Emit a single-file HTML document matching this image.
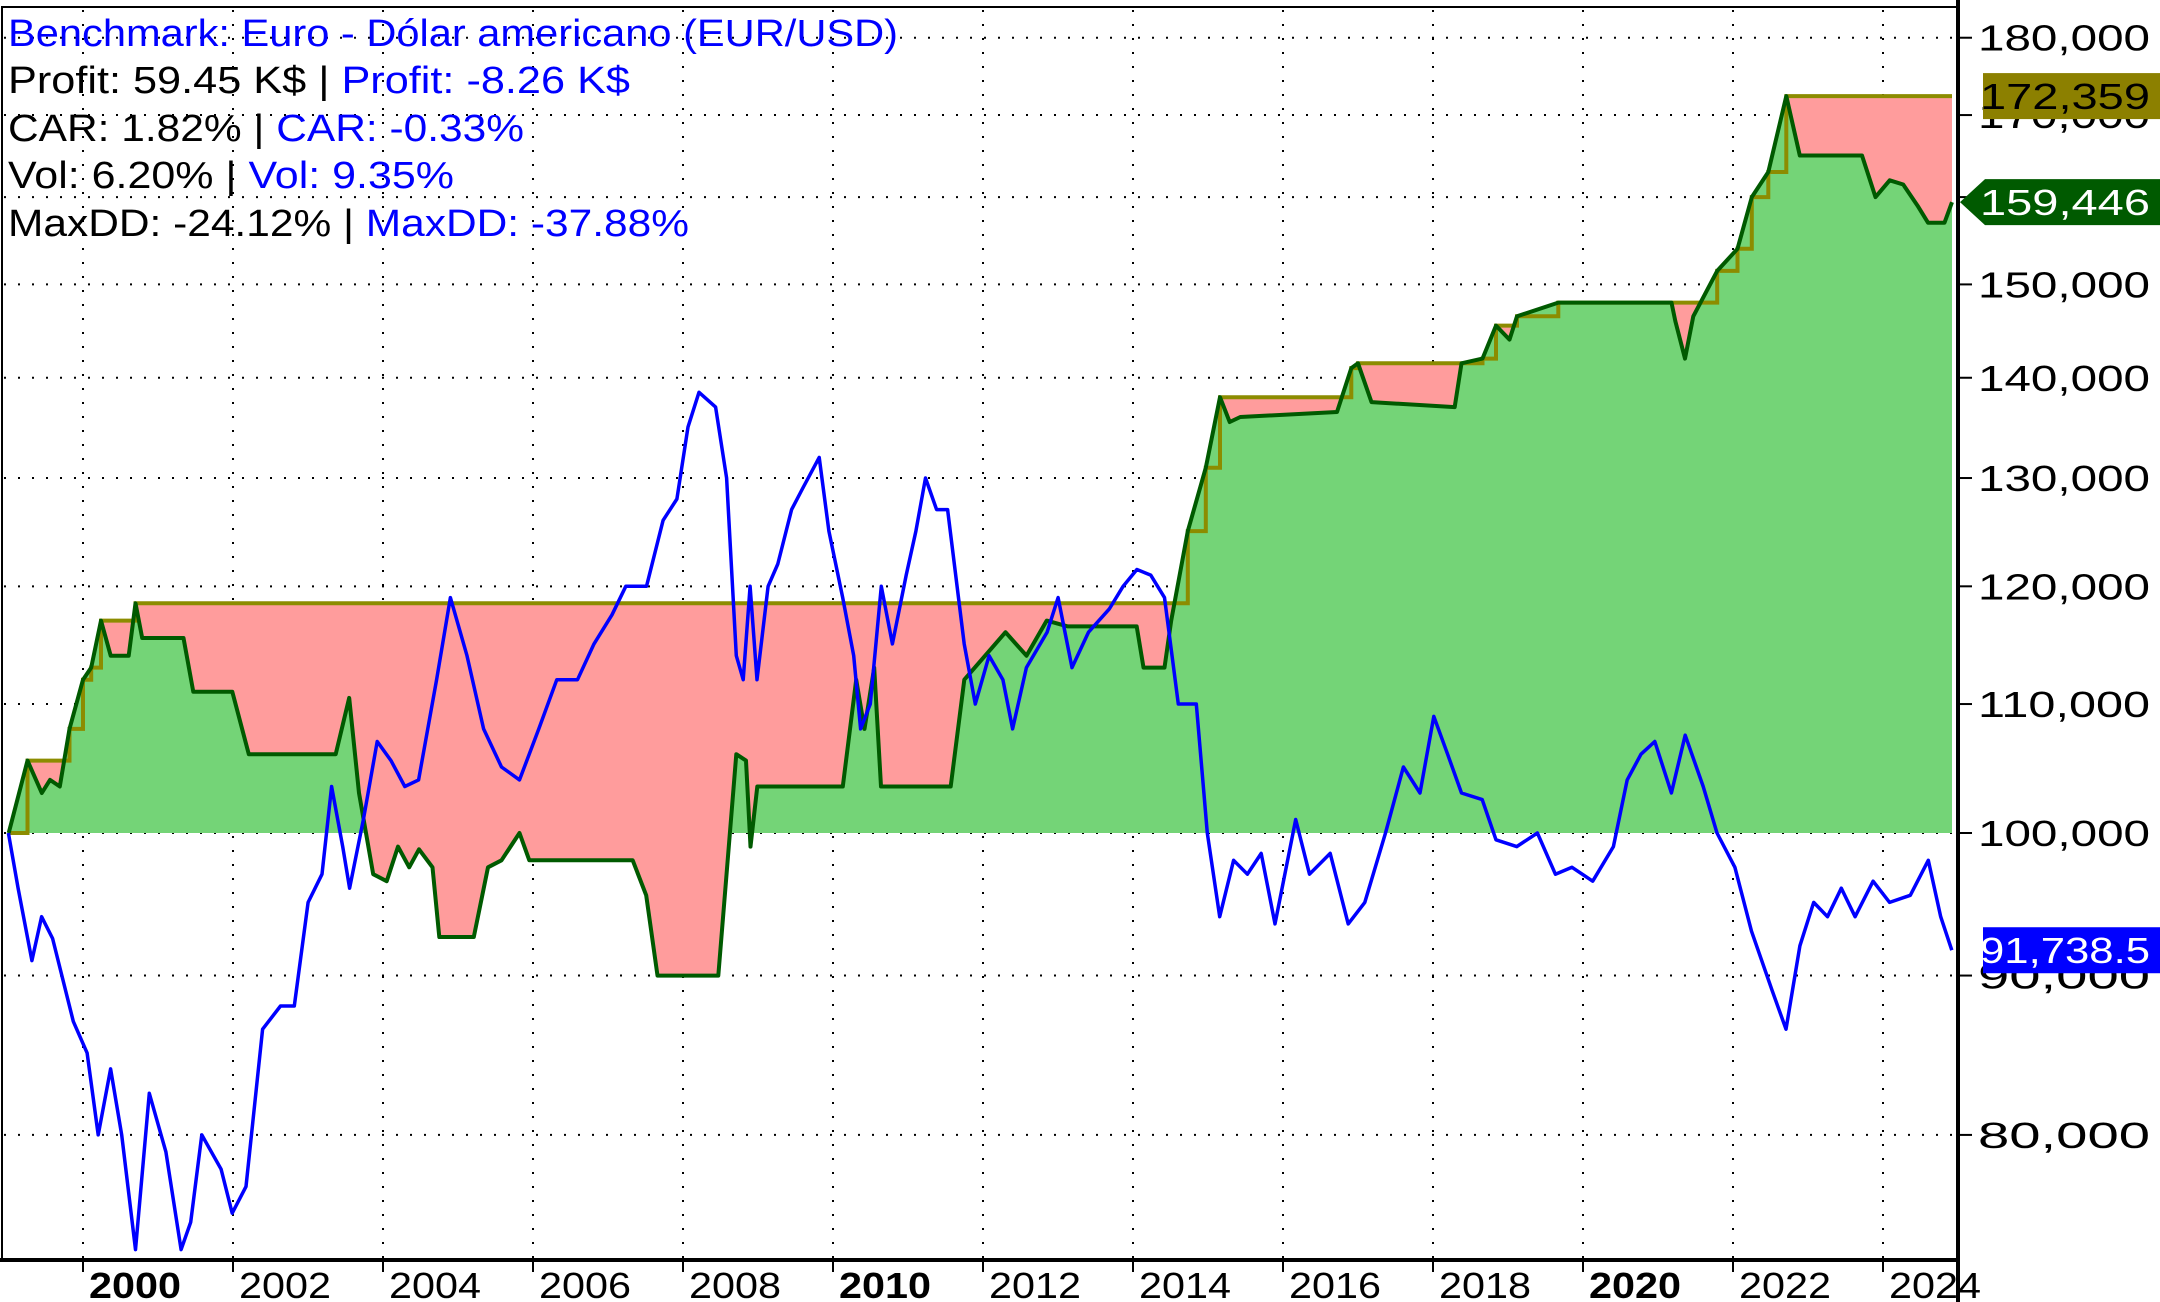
<!DOCTYPE html>
<html><head><meta charset="utf-8"><style>
html,body{margin:0;padding:0;background:#fff}
svg{display:block;font-family:"Liberation Sans",Arial,sans-serif}
</style></head><body>
<svg id="chart" width="2160" height="1302" viewBox="0 0 2160 1302" xmlns="http://www.w3.org/2000/svg">
<defs><clipPath id="above"><rect x="0" y="0" width="1958" height="833"/></clipPath>
<clipPath id="plot"><rect x="0" y="0" width="1958" height="1260"/></clipPath></defs>
<g id="grid"></g>
<g id="areas" clip-path="url(#plot)"></g>
<g id="lines" clip-path="url(#plot)"></g>
<rect x="2" y="7" width="1956" height="1253" fill="none" stroke="#000" stroke-width="2"/>
<line x1="0" y1="1260" x2="1960" y2="1260" stroke="#000" stroke-width="4"/>
<line x1="1958" y1="0" x2="1958" y2="1302" stroke="#000" stroke-width="4"/>
<g id="axes"></g>
<g font-size="38">
<text x="8" y="46" fill="#0000ff" textLength="890" lengthAdjust="spacingAndGlyphs">Benchmark: Euro - Dólar americano (EUR/USD)</text>
<text x="8" y="93" textLength="622" lengthAdjust="spacingAndGlyphs"><tspan fill="#000">Profit: 59.45 K$ | </tspan><tspan fill="#0000ff">Profit: -8.26 K$</tspan></text>
<text x="8" y="141" textLength="516" lengthAdjust="spacingAndGlyphs"><tspan fill="#000">CAR: 1.82% | </tspan><tspan fill="#0000ff">CAR: -0.33%</tspan></text>
<text x="8" y="188" textLength="446" lengthAdjust="spacingAndGlyphs"><tspan fill="#000">Vol: 6.20% | </tspan><tspan fill="#0000ff">Vol: 9.35%</tspan></text>
<text x="8" y="236" textLength="681" lengthAdjust="spacingAndGlyphs"><tspan fill="#000">MaxDD: -24.12% | </tspan><tspan fill="#0000ff">MaxDD: -37.88%</tspan></text>
</g>
<g id="tags"></g>
</svg>
<script>
const eqYears=[1999.01,1999.26,1999.45,1999.56,1999.69,1999.82,2000.0,2000.11,2000.24,2000.37,2000.61,2000.7,2000.79,2001.34,2001.47,2001.99,2002.21,2003.37,2003.55,2003.68,2003.87,2004.05,2004.2,2004.35,2004.48,2004.66,2004.75,2005.21,2005.4,2005.58,2005.82,2005.95,2007.33,2007.51,2007.66,2008.47,2008.71,2008.84,2008.9,2008.99,2010.13,2010.31,2010.42,2010.55,2010.64,2011.57,2011.75,2012.3,2012.58,2012.85,2013.13,2014.05,2014.14,2014.42,2014.51,2014.73,2014.97,2015.16,2015.29,2015.43,2016.72,2016.91,2017.0,2017.18,2018.29,2018.38,2018.66,2018.84,2019.02,2019.12,2019.67,2021.18,2021.23,2021.36,2021.47,2021.79,2022.06,2022.25,2022.47,2022.71,2022.89,2023.72,2023.9,2024.09,2024.27,2024.46,2024.6,2024.82,2024.92];
const eqValues=[100,105.5,103,104,103.5,108,112,113,117,114,114,118.5,115.5,115.5,111,111,106,106,110.5,103,97,96.5,99,97.5,98.8,97.5,92.6,92.6,97.5,98,100,98,98,95.5,90,90,106,105.5,99,103.5,103.5,112,108,113,103.5,103.5,112,116,114,117,116.5,116.5,113,113,117,125,131,138,135.5,136,136.5,141,141.5,137.5,137,141.5,142,145.5,144,146.5,148,148,146,142,146.5,151.5,154,160,163,172.4,165,165,160,162,161.5,159,157,157,159.4];
const bmX=[8,15,25,32,40,55,65,73,82,90,100,110,122,133,140,148,162,170,180,192,205,215,225,235,242,250,255,265,275,285,295,305,318,328,340,352,365,378,392,405,420,432,445,455,470,482,492,500,508,520,528,535,540,545,550,558,565,575,583,595,602,612,620,625,632,640,648,658,665,672,680,688,700,708,718,728,735,745,760,768,778,790,805,815,825,835,845,855,868,876,885,895,905,915,925,940,950,965,978,990,1005,1018,1030,1040,1050,1060,1075,1085,1100,1115,1128,1140,1155,1170,1180,1190,1200,1212,1222,1235,1245,1258,1270,1285,1295,1305,1315,1325,1335,1345,1358,1370,1385,1398,1407,1415];
const bmValues=[100,96,91,94,92.5,87,85,80,84,80,73.5,82.5,79,73.5,75,80,78,75.5,77,86.5,88,88,95,97,103.5,99,96,101,107,105.5,103.5,104,112,119,114,108,105,104,108,112,112,115,117.5,120,120,126,128,135,138.5,137,130,114,112,120,112,120,122,127,129,132,125,119,114,108,110,120,115,121,125,130,127,127,115,110,114,112,108,113,116,119,113,116,118,120,121.5,121,119,110,110,100,94,98,97,98.5,93.5,101,97,98.5,93.5,95,100,105,103,109,106,103,102.5,99.5,99,100,97,97.5,96.5,99,104,106,107,103,107.5,103.5,100,97.5,93,89,86.5,92,95,94,96,94,96.5,95,95.5,98,94,91.7];
const yTicks=[80,90,100,110,120,130,140,150,160,170,180];
const yTickLabels=["80,000","90,000","100,000","110,000","120,000","130,000","140,000","150,000","160,000","170,000","180,000"];
const xTicks=[2000,2002,2004,2006,2008,2010,2012,2014,2016,2018,2020,2022,2024];
const lastEquity="159,446", peakLabel="172,359", lastBench="91,738.5";

const NS="http://www.w3.org/2000/svg";
const X=yr=>83+(yr-2000)*75;
const Y=v=>833-1353*Math.log(v/100);
const bmYear=x=>2000+(x/1.3776-62/1.3776*1.3776/1.3776-0)*0; // unused
function dispToYear(xd){return 2000+(xd-62)/54.3;}
function mk(tag,attrs,parent){const e=document.createElementNS(NS,tag);for(const k in attrs)e.setAttribute(k,attrs[k]);parent.appendChild(e);return e;}
const grid=document.getElementById('grid'),areas=document.getElementById('areas'),lines=document.getElementById('lines'),axes=document.getElementById('axes'),tags=document.getElementById('tags');

// grid
yTicks.forEach((v,i)=>{
  const g=mk('line',{x1:4,x2:1956,y1:Y(v),y2:Y(v),stroke:'#000','stroke-width':2,'stroke-dasharray':'2 12'},grid);
  
  
  const t=mk('line',{x1:1958,x2:1972,y1:Y(v),y2:Y(v),stroke:'#000','stroke-width':2},axes);
  
  
  const lb=mk('text',{x:2150,y:Y(v)+13,'text-anchor':'end','font-size':36,fill:'#000',textLength:172,lengthAdjust:'spacingAndGlyphs'},axes);
  lb.textContent=yTickLabels[i];
  
  
});
xTicks.forEach(yr=>{
  const g=mk('line',{x1:X(yr),x2:X(yr),y1:10,y2:1258,stroke:'#000','stroke-width':2,'stroke-dasharray':'2 12'},grid);
  
  
  const t=mk('line',{x1:X(yr),x2:X(yr),y1:1260,y2:1272,stroke:'#000','stroke-width':2},axes);
  
  
  const bold=yr%10===0;
  const lb=mk('text',{x:X(yr)+6,y:1298,'font-size':36,'font-weight':bold?'bold':'normal',fill:'#000',textLength:92,lengthAdjust:'spacingAndGlyphs'},axes);
  lb.textContent=String(yr);
  
  
});

// peak (running max)
const peak=[];let m=-Infinity;eqValues.forEach(v=>{m=Math.max(m,v);peak.push(m);});
const eqPts=eqYears.map((y,i)=>[X(y),Y(eqValues[i])]);
const pkPts=[];eqYears.forEach((y,i)=>{if(i>0&&peak[i]!==peak[i-1])pkPts.push([X(y),Y(peak[i-1])]);pkPts.push([X(y),Y(peak[i])]);});
const ps=p=>p.map(q=>q[0].toFixed(1)+','+q[1].toFixed(1)).join(' ');
const red=mk('polygon',{points:ps(pkPts)+' '+ps(eqPts.slice().reverse()),fill:'#ff9c9c'},areas);


const x0=eqPts[0][0],x1=eqPts[eqPts.length-1][0];
const green=mk('polygon',{points:x0+','+Y(100)+' '+ps(eqPts)+' '+x1+','+Y(100),fill:'#74d477','clip-path':'url(#above)'},areas);


const pl=mk('polyline',{points:ps(pkPts),fill:'none',stroke:'#8c8c00','stroke-width':4},lines);


const el=mk('polyline',{points:ps(eqPts),fill:'none',stroke:'#005a00','stroke-width':4,'stroke-linejoin':'round'},lines);


const bmPts=bmX.map((x,i)=>[X(dispToYear(x)),Y(bmValues[i])]);
const bl=mk('polyline',{points:ps(bmPts),fill:'none',stroke:'#0000ff','stroke-width':3.5,'stroke-linejoin':'round'},lines);



// tags
function tag(name,yc,bg,fg,txt,arrow){
  const g=mk('g',{},tags);
  
  
  if(arrow) mk('polygon',{points:`1960,${yc} 1985,${yc-23} 2160,${yc-23} 2160,${yc+23} 1985,${yc+23}`,fill:bg},g);
  else mk('rect',{x:1983,y:yc-23,width:177,height:46,fill:bg},g);
  const t=mk('text',{x:2150,y:yc+13,'text-anchor':'end','font-size':36,fill:fg,textLength:170,lengthAdjust:'spacingAndGlyphs'},g);
  t.textContent=txt;
}
tag('peak-value-tag',Y(peak[peak.length-1]),'#8c8000','#000',peakLabel,false);
tag('equity-value-tag',Y(eqValues[eqValues.length-1]),'#005a00','#fff',lastEquity,true);
tag('benchmark-value-tag',Y(bmValues[bmValues.length-1]),'#0000ff','#fff',lastBench,false);
</script>
</body></html>
